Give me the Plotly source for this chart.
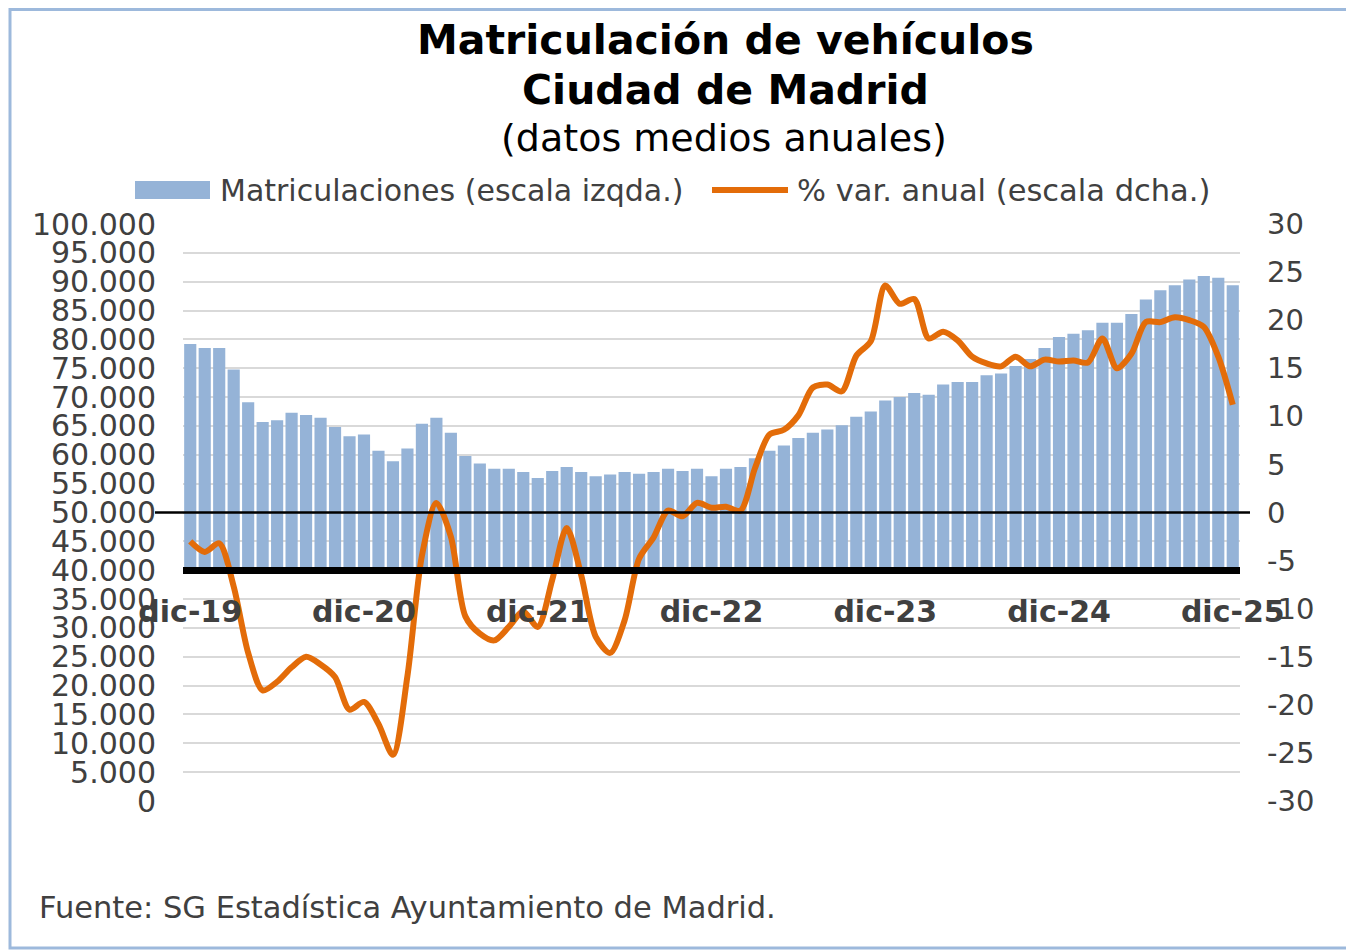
import plotly.graph_objects as go

# ---------------- data ----------------
meses = ["ene", "feb", "mar", "abr", "may", "jun", "jul", "ago", "sep", "oct", "nov", "dic"]
periodos = ["dic-19"] + [f"{m}-{a}" for a in range(20, 26) for m in meses]

matriculaciones = [
    79200, 78500, 78500, 74800, 69100, 65700, 66000, 67300, 66900, 66400, 64800, 63200,
    63500, 60700, 58900, 61100, 65400, 66400, 63800, 59800, 58500, 57600, 57600, 57000,
    56000, 57200, 57900, 57000, 56300, 56600, 57000, 56700, 57000, 57600, 57200, 57600,
    56300, 57600, 57900, 59400, 60700, 61600, 62900, 63800, 64400, 65100, 66600, 67500,
    69400, 70000, 70700, 70400, 72200, 72600, 72600, 73800, 74100, 75400, 76600, 78500,
    80400, 81000, 81600, 82900, 82900, 84400, 86900, 88500, 89400, 90400, 91000, 90700,
    89400,
]

var_anual = [
    -3.0, -4.1, -3.2, -7.7, -14.6, -18.5, -17.6, -16.1, -15.0, -15.8, -17.1, -20.5,
    -19.7, -22.0, -25.2, -17.0, -4.5, 1.0, -2.5, -10.8, -12.6, -13.3, -11.9, -10.3,
    -11.9, -7.0, -1.6, -6.5, -12.9, -14.6, -11.2, -4.8, -2.6, 0.2, -0.4, 1.0,
    0.5, 0.6, 0.2, 4.6, 8.1, 8.6, 10.1, 13.0, 13.3, 12.6, 16.3, 17.8,
    23.6, 21.7, 22.2, 18.1, 18.8, 17.9, 16.2, 15.5, 15.2, 16.2, 15.2, 15.9,
    15.7, 15.8, 15.6, 18.1, 15.0, 16.5, 19.8, 19.8, 20.3, 20.0, 19.3, 16.2,
    11.2,
]

etiquetas_x = ["dic-19", "dic-20", "dic-21", "dic-22", "dic-23", "dic-24", "dic-25"]
ticks_izq = list(range(0, 100001, 5000))
ticks_izq_txt = [f"{v:,}".replace(",", ".") for v in ticks_izq]
ticks_dcha = list(range(-30, 31, 5))
ticks_dcha_txt = [str(v) for v in ticks_dcha]

BASE_BARRAS = 40000

# ---------------- geometry (page has an 8px body margin) ----------------
OFF = 8
W, H = 1354 - OFF, 951 - OFF
PLOT_L, PLOT_R, PLOT_T, PLOT_B = 183, 1240, 224, 801   # in screenshot pixels
L = PLOT_L - OFF
T = PLOT_T - OFF
R = W - (PLOT_R - OFF)
B = H - (PLOT_B - OFF)
PW, PH = PLOT_R - PLOT_L, PLOT_B - PLOT_T


def px(x):
    return (x - PLOT_L) / PW


def py(y):
    return (PLOT_B - y) / PH


FONT = "DejaVu Sans"
GRIS = "#404040"
AZUL = "#95B3D7"
NARANJA = "#E36C09"

fig = go.Figure()
fig.add_trace(go.Bar(
    x=periodos,
    y=[v - BASE_BARRAS for v in matriculaciones],
    base=BASE_BARRAS,
    marker=dict(color=AZUL, line=dict(width=0)),
    name="Matriculaciones (escala izqda.)",
    yaxis="y",
))
fig.add_trace(go.Scatter(
    x=periodos,
    y=var_anual,
    mode="lines",
    line=dict(color=NARANJA, width=6, shape="spline", smoothing=0.8),
    name="% var. anual (escala dcha.)",
    yaxis="y2",
))

shapes = [
    # zero line of right axis
    dict(type="line", xref="paper", yref="y2", x0=px(155), x1=px(1250), y0=0, y1=0,
         line=dict(color="black", width=2.5), layer="above"),
    # outer frame
    dict(type="rect", xref="paper", yref="paper", x0=px(10), x1=px(1362), y0=py(948), y1=py(9.5),
         line=dict(color="#9DB9DC", width=3), fillcolor="rgba(0,0,0,0)"),
    # legend symbols
    dict(type="rect", xref="paper", yref="paper", x0=px(135), x1=px(210), y0=py(199), y1=py(181),
         line=dict(width=0), fillcolor=AZUL),
    dict(type="line", xref="paper", yref="paper", x0=px(712), x1=px(788), y0=py(190), y1=py(190),
         line=dict(color=NARANJA, width=6)),
]

annotations = [
    dict(text="<b>Matriculación de vehículos</b>", x=px(725), y=py(40), font=dict(size=41, color="black")),
    dict(text="<b>Ciudad de Madrid</b>", x=px(725), y=py(90), font=dict(size=41, color="black")),
    dict(text="(datos medios anuales)", x=px(724), y=py(138), font=dict(size=38, color="black")),
]
for a in annotations:
    a.update(xref="paper", yref="paper", xanchor="center", yanchor="middle", showarrow=False)

annotations += [
    dict(text="Matriculaciones (escala izqda.)", x=px(218), y=py(190), xanchor="left", yanchor="middle",
         xref="paper", yref="paper", showarrow=False, font=dict(size=30, color=GRIS)),
    dict(text="% var. anual (escala dcha.)", x=px(795), y=py(190), xanchor="left", yanchor="middle",
         xref="paper", yref="paper", showarrow=False, font=dict(size=30.5, color=GRIS)),
    dict(text="Fuente: SG Estadística Ayuntamiento de Madrid.", x=px(37), y=py(907), xanchor="left",
         yanchor="middle", xref="paper", yref="paper", showarrow=False, font=dict(size=30.5, color=GRIS)),
]

fig.update_layout(
    width=W, height=H,
    margin=dict(l=L, r=R, t=T, b=B, pad=0),
    paper_bgcolor="white", plot_bgcolor="white",
    font=dict(family=FONT, color=GRIS),
    showlegend=False,
    bargap=0.16,
    xaxis=dict(
        type="category", range=[-0.5, len(periodos) - 0.5],
        anchor="free", position=BASE_BARRAS / 100000,
        showline=True, linecolor="black", linewidth=7,
        showgrid=False, zeroline=False,
        tickmode="array", tickvals=etiquetas_x, ticktext=etiquetas_x,
        ticks="", ticklabelstandoff=12,
        tickfont=dict(size=30, color=GRIS, family=FONT, weight="bold"),
    ),
    yaxis=dict(
        range=[0, 100000], tickmode="array", tickvals=ticks_izq, ticktext=ticks_izq_txt,
        showgrid=True, gridcolor="#D9D9D9", gridwidth=2, zeroline=False, showline=False,
        ticks="", ticklabelstandoff=26,
        tickfont=dict(size=30, color=GRIS, family=FONT),
    ),
    yaxis2=dict(
        range=[-30, 30], overlaying="y", side="right", anchor="x",
        tickmode="array", tickvals=ticks_dcha, ticktext=ticks_dcha_txt,
        showgrid=False, zeroline=False, showline=False,
        ticks="", ticklabelstandoff=26,
        tickfont=dict(size=29, color=GRIS, family=FONT),
    ),
    shapes=shapes,
    annotations=annotations,
)

fig.write_html("out.html")
